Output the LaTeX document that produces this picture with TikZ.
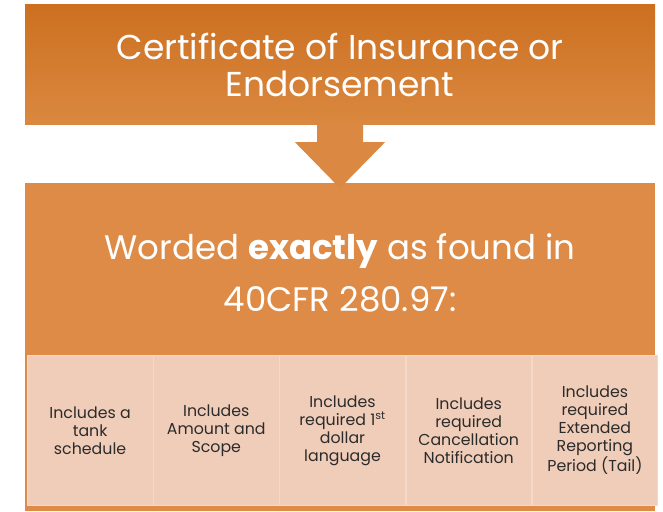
\documentclass[tikz,border=0pt]{standalone}
\usepackage{fontspec}
\setmainfont{Poppins}
\usetikzlibrary{positioning}
\definecolor{ochretop}{HTML}{CC7020}
\definecolor{ochrebot}{HTML}{DA8840}
\definecolor{ochrelow}{HTML}{DE8B47}
\definecolor{peach}{HTML}{F0CDB9}
\definecolor{celltext}{HTML}{2B2B2B}
\begin{document}
\begin{tikzpicture}[x=1pt,y=-1pt,
  headbox/.style={inner sep=0pt, minimum width=630pt, align=center, text=white},
  cellbox/.style={fill=peach, draw=peach!75!white, line width=0.6pt, minimum width=125.6pt,
    minimum height=150pt, inner sep=0pt, align=center, text=celltext,
    font=\fontsize{15.8}{18}\selectfont}]
\useasboundingbox (0,0) rectangle (663,511);
% top box
\node[headbox, minimum height=119pt, top color=ochretop, bottom color=ochrebot,
  font=\fontsize{34.5}{37}\selectfont] (cert) at (340,64.5) {Certificate of Insurance or\\Endorsement};
% lower box
\node[headbox, minimum height=328pt, fill=ochrelow] (worded) at (340,347) {};
\node[text=white, align=center, font=\fontsize{34}{52}\selectfont] (wordtext) at (340,273)
  {Worded \textbf{exactly} as found in\\40CFR 280.97:};
% block arrow
\begin{scope}[shift={(cert.south)}]
\fill[ochrebot!70!ochrelow] (-23,0) -- (-23,18) -- (-45,18) -- (0,64) -- (45,18) -- (23,18) -- (23,0) -- cycle;
\end{scope}
% cells
\node[cellbox, anchor=north west] (c1) at (27,355) {Includes a\\tank\\schedule};
\node[cellbox, right=0pt of c1] (c2) {Includes\\Amount and\\Scope};
\node[cellbox, right=0pt of c2] (c3) {Includes\\required 1\textsuperscript{st}\\dollar\\language};
\node[cellbox, right=0pt of c3] (c4) {Includes\\required\\Cancellation\\Notification};
\node[cellbox, right=0pt of c4] (c5) {Includes\\required\\Extended\\Reporting\\Period (Tail)};
\end{tikzpicture}
\end{document}
